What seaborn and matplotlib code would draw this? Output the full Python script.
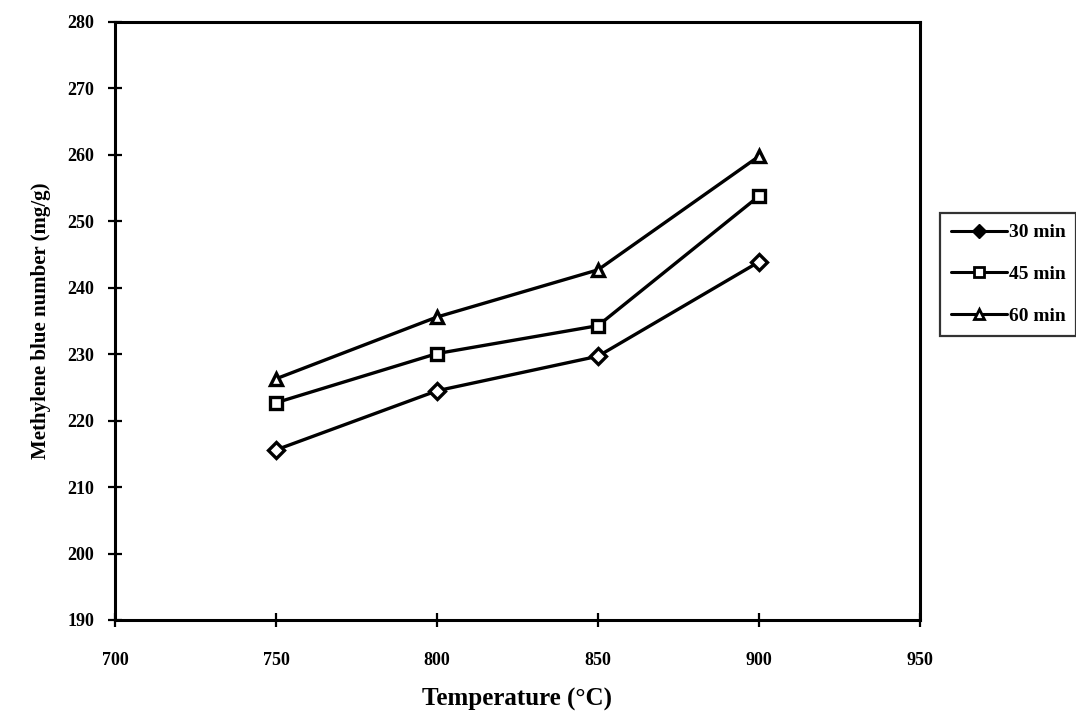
import matplotlib
matplotlib.use("Agg")
import matplotlib.pyplot as plt
import seaborn as sns
import pandas as pd
from matplotlib.lines import Line2D

temperature = [750, 800, 850, 900]
mb_30 = [215.6, 224.5, 229.7, 243.9]
mb_45 = [222.7, 230.1, 234.3, 253.8]
mb_60 = [226.3, 235.6, 242.7, 259.8]
series_labels = ["30 min", "45 min", "60 min"]
x_ticks = [700, 750, 800, 850, 900, 950]
y_ticks = [190, 200, 210, 220, 230, 240, 250, 260, 270, 280]

df = pd.DataFrame({
    "Temperature": temperature * 3,
    "MB": mb_30 + mb_45 + mb_60,
    "Time": [series_labels[0]] * 4 + [series_labels[1]] * 4 + [series_labels[2]] * 4,
})

sns.set_theme(style="white")
plt.rcParams["font.family"] = ["Liberation Serif"]
plt.rcParams["font.weight"] = "bold"
plt.rcParams["text.color"] = "black"
plt.rcParams["axes.labelcolor"] = "black"
plt.rcParams["xtick.color"] = "black"
plt.rcParams["ytick.color"] = "black"

fig = plt.figure(figsize=(10.76, 7.21), dpi=100)
ax = fig.add_axes([115 / 1076, 1 - 620 / 721, (920 - 115) / 1076, (620 - 22) / 721])

markers = {"30 min": "D", "45 min": "s", "60 min": "^"}
sns.lineplot(data=df, x="Temperature", y="MB", hue="Time", style="Time",
             palette=["black"] * 3, markers=markers, dashes=False,
             linewidth=2.4, markersize=8, markeredgewidth=2.4,
             markerfacecolor="white", markeredgecolor="black", ax=ax, legend=False)

ax.set_xlim(700, 950)
ax.set_ylim(190, 280)
ax.set_xticks(x_ticks)
ax.set_yticks(y_ticks)
ax.set_xticklabels([str(v) for v in x_ticks], fontsize=13, fontweight="bold",
                   family="Liberation Serif")
ax.set_yticklabels([str(v) for v in y_ticks], fontsize=13, fontweight="bold",
                   family="Liberation Serif")
ax.tick_params(axis="both", which="major", bottom=True, left=True, top=False, right=False,
               direction="inout", length=10, width=1.6, colors="black",
               labelcolor="black")
ax.tick_params(axis="x", pad=18)
ax.tick_params(axis="y", pad=10)
for sp in ax.spines.values():
    sp.set_visible(True)
    sp.set_color("black")
    sp.set_linewidth(2.2)

ax.set_xlabel("Temperature (°C)", fontsize=18, fontweight="bold", labelpad=14,
              color="black", family="Liberation Serif")
ax.set_ylabel("Methylene blue number (mg/g)", fontsize=15, fontweight="bold", labelpad=12,
              color="black", family="Liberation Serif")

handles = [
    Line2D([], [], color="black", lw=2.2, marker="D", ms=7, mfc="black", mec="black"),
    Line2D([], [], color="black", lw=2.2, marker="s", ms=7, mfc="white", mec="black", mew=2),
    Line2D([], [], color="black", lw=2.2, marker="^", ms=7, mfc="white", mec="black", mew=2),
]
leg = fig.legend(handles, series_labels, loc="upper left",
                 bbox_to_anchor=(940 / 1076, 1 - 213 / 721), frameon=True,
                 fancybox=False, prop={"size": 14, "weight": "bold",
                                       "family": "Liberation Serif"},
                 handlelength=2.9, handletextpad=0.1, labelspacing=1.25,
                 borderpad=0.55, borderaxespad=0)
leg.get_frame().set_edgecolor("black")
leg.get_frame().set_linewidth(1.6)
for t in leg.get_texts():
    t.set_color("black")

fig.savefig("out.png", dpi=100)
